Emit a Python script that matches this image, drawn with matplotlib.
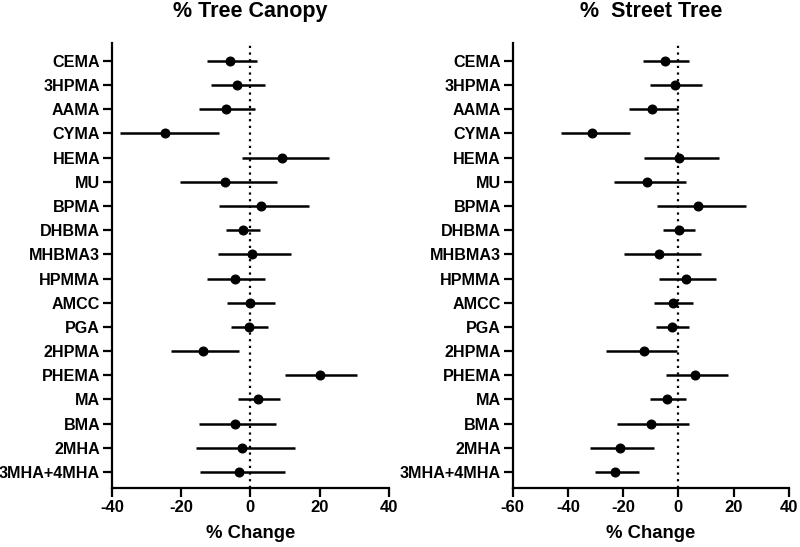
import matplotlib
matplotlib.use('Agg')
import matplotlib.pyplot as plt
import numpy as np

plt.rcParams['font.family'] = ['Liberation Sans', 'DejaVu Sans']
plt.rcParams['font.weight'] = 'bold'
plt.rcParams['axes.unicode_minus'] = False

# metabolites (top to bottom)
labels = ["CEMA", "3HPMA", "AAMA", "CYMA", "HEMA", "MU", "BPMA", "DHBMA", "MHBMA3",
          "HPMMA", "AMCC", "PGA", "2HPMA", "PHEMA", "MA", "BMA", "2MHA", "3MHA+4MHA"]

# % Tree Canopy: estimate, lower, upper
canopy_est = [-5.8, -3.9, -7.1, -24.7, 9.2, -7.4, 3.0, -2.1, 0.6,
              -4.5, -0.1, -0.5, -13.7, 20.0, 2.2, -4.4, -2.3, -3.2]
canopy_lo = [-12.6, -11.3, -14.8, -37.6, -2.5, -20.3, -9.2, -7.0, -9.5,
             -12.6, -6.8, -5.7, -22.9, 10.1, -3.6, -14.8, -15.7, -14.5]
canopy_hi = [1.8, 4.1, 1.3, -9.1, 22.6, 7.6, 17.0, 2.9, 11.8,
             4.2, 7.0, 5.0, -3.4, 30.9, 8.6, 7.4, 12.8, 10.0]

# % Street Tree: estimate, lower, upper
street_est = [-4.9, -1.4, -9.4, -31.3, 0.3, -11.2, 7.1, 0.1, -6.9,
              2.9, -1.9, -2.4, -12.4, 6.1, -4.2, -9.8, -21.3, -22.8]
street_lo = [-12.7, -10.2, -18.0, -42.7, -12.4, -23.2, -7.9, -5.5, -19.6,
             -7.0, -8.8, -8.2, -26.1, -4.4, -10.2, -22.2, -31.9, -30.2]
street_hi = [3.9, 8.4, -0.2, -17.5, 14.8, 2.7, 24.6, 6.1, 8.1,
             13.7, 5.3, 3.8, -0.5, 17.9, 2.6, 4.0, -9.0, -14.2]

fig = plt.figure(figsize=(8, 5.47), dpi=100)
ax1 = fig.add_axes([0.14, 0.1079, 0.346, 0.8135])
ax2 = fig.add_axes([0.641, 0.1079, 0.345, 0.8135])

ypos = np.arange(len(labels))[::-1]


def forest(ax, est, lo, hi, title, xlim, xticks):
    est = np.array(est)
    lo = np.array(lo)
    hi = np.array(hi)
    ax.axvline(0, color='black', linestyle=(0, (1, 2)), linewidth=1.6, zorder=1)
    ax.hlines(ypos, lo, hi, color='black', linewidth=1.8, zorder=2)
    ax.plot(est, ypos, 'o', color='black', markersize=6.2, zorder=3)
    ax.set_xlim(*xlim)
    ax.set_xticks(xticks)
    ax.set_ylim(-0.66, len(labels) - 0.26)
    ax.set_yticks(ypos)
    ax.set_yticklabels(labels)
    for s in ['top', 'right']:
        ax.spines[s].set_visible(False)
    for s in ['left', 'bottom']:
        ax.spines[s].set_linewidth(1.6)
    ax.tick_params(axis='x', direction='out', length=6.5, width=1.6, labelsize=12, pad=2.5)
    ax.tick_params(axis='y', direction='out', length=6.5, width=1.6, labelsize=11.6, pad=2)
    for t in ax.get_xticklabels() + ax.get_yticklabels():
        t.set_fontweight('bold')
    ax.set_xlabel('% Change', fontsize=13.3, fontweight='bold', labelpad=7)
    ax.set_title(title, fontsize=15.5, fontweight='bold', pad=19)


forest(ax1, canopy_est, canopy_lo, canopy_hi, '% Tree Canopy', (-40, 40), [-40, -20, 0, 20, 40])
forest(ax2, street_est, street_lo, street_hi, '%  Street Tree', (-60, 40), [-60, -40, -20, 0, 20, 40])

fig.savefig('out.png', dpi=100)
